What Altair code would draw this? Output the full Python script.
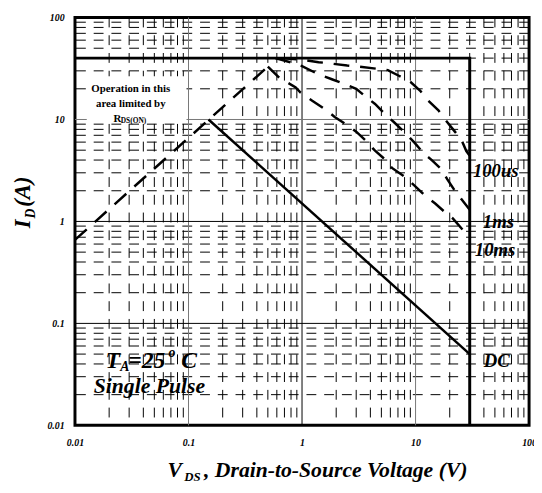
import altair as alt
import pandas as pd

SERIF = "Liberation Serif"

# ---------------- data ----------------
decades_x = [0.01, 0.1, 1, 10, 100]
decades_y = [0.01, 0.1, 1, 10, 100]
minor_mult = [2, 3, 4, 5, 6, 7, 8, 9]
minor_base = [0.01, 0.1, 1, 10]

dark_decades_x = [1]
gray_decades_x = [0.1, 10]
dark_decades_y = [1, 0.1]
gray_decades_y = [10]

# SOA boundary (I_D max 40 A, V_DS max 30 V)
bound_v = [0.01, 30, 30]
bound_i = [40, 40, 0.01]

# R_DS(on) limited line
rds_v = [0.01, 0.5]
rds_i = [0.66, 33]

us100_v = [0.65, 1.0, 1.4, 1.8, 2.5, 3.2, 4.5, 5.7, 7.2, 9.0, 11, 12.6, 15.9, 18.2, 22.2, 25.4, 28, 30]
us100_i = [40, 38.6, 36.5, 35.4, 33.8, 33, 31.5, 30.5, 26.7, 23.4, 19.1, 15.7, 12.3, 10, 7.6, 6.3, 4.9, 4.4]

ms1_v = [0.58, 0.82, 1.0, 1.4, 1.83, 2.38, 3.0, 3.7, 4.4, 5.5, 6.4, 7.9, 9.7, 11.9, 13.9, 16.9, 19.0, 22.2, 25.4, 30]
ms1_i = [40, 36, 33.4, 27.7, 24.8, 22.2, 20, 16.5, 14.2, 11, 9.5, 7.6, 6.0, 4.6, 4.0, 3.24, 2.6, 2.0, 1.65, 1.3]

ms10_v = [0.5, 0.63, 0.88, 0.97, 1.23, 1.6, 1.94, 2.5, 3.0, 3.7, 4.35, 5.6, 6.2, 8.2, 10, 12.2, 14.9, 18.2, 21.3, 26.2]
ms10_i = [33, 25.7, 20.6, 18.4, 15.3, 12.6, 10.6, 8.8, 7.6, 6.1, 5.0, 3.9, 3.35, 2.7, 2.2, 1.78, 1.5, 1.23, 1.07, 0.82]

dc_v = [0.15, 30]
dc_i = [10, 0.05]

# white box behind the "Operation in this area..." note
note_box_v = [0.0127, 0.096]
note_box_i = [9.6, 26.5]

# ---------------- tables ----------------
minor_vals = [m * b for b in minor_base for m in minor_mult]
minor_df = pd.DataFrame({"val": minor_vals})


def series_df(name, v, i):
    return pd.DataFrame({"series": name, "v": v, "i": i, "idx": list(range(len(v)))})


dashed_df = pd.concat([
    series_df("rds", rds_v, rds_i),
    series_df("100us", us100_v, us100_i),
    series_df("1ms", ms1_v, ms1_i),
    series_df("10ms", ms10_v, ms10_i),
])
bound_df = series_df("bound", bound_v, bound_i)
dc_df = series_df("dc", dc_v, dc_i)
box_df = pd.DataFrame({"v": [note_box_v[0]], "v2": [note_box_v[1]],
                       "i": [note_box_i[0]], "i2": [note_box_i[1]]})

xs = alt.Scale(type="log", domain=[0.01, 100], nice=False)
ys = alt.Scale(type="log", domain=[0.01, 100], nice=False)

axis_style = dict(
    labelFont=SERIF, labelFontStyle="italic", labelFontWeight="bold",
    labelFontSize=10, labelColor="black", ticks=False, domain=False,
    grid=False, title=None, labelFlush=False, format="~g",
)
XAX = alt.Axis(values=decades_x, labelPadding=12, **axis_style)
YAX = alt.Axis(values=decades_y, labelPadding=11, **axis_style)


def X(f):
    return alt.X(f, scale=xs, axis=XAX, title=None)


def Y(f):
    return alt.Y(f, scale=ys, axis=YAX, title=None)


# grid
vgrid = alt.Chart(minor_df).mark_rule(color="black", strokeWidth=1, strokeDash=[10, 8]).encode(x=X("val:Q"))
hgrid = alt.Chart(minor_df).mark_rule(color="black", strokeWidth=1, strokeDash=[10, 8]).encode(y=Y("val:Q"))
vdark = alt.Chart(pd.DataFrame({"val": dark_decades_x})).mark_rule(color="black", strokeWidth=1).encode(x=X("val:Q"))
vgray = alt.Chart(pd.DataFrame({"val": gray_decades_x})).mark_rule(color="#777777", strokeWidth=1).encode(x=X("val:Q"))
hdark = alt.Chart(pd.DataFrame({"val": dark_decades_y})).mark_rule(color="black", strokeWidth=1).encode(y=Y("val:Q"))
hgray = alt.Chart(pd.DataFrame({"val": gray_decades_y})).mark_rule(color="#777777", strokeWidth=1).encode(y=Y("val:Q"))

box = alt.Chart(box_df).mark_rect(color="white", opacity=1).encode(
    x=X("v:Q"), x2="v2:Q", y=Y("i:Q"), y2="i2:Q")


def line_enc(ch):
    return ch.encode(x=X("v:Q"), y=Y("i:Q"), detail="series:N", order="idx:Q")


dashed = line_enc(alt.Chart(dashed_df).mark_line(color="black", strokeWidth=2.5, strokeDash=[16, 11]))
bound = line_enc(alt.Chart(bound_df).mark_line(color="black", strokeWidth=3))
dc = line_enc(alt.Chart(dc_df).mark_line(color="black", strokeWidth=2.5))

one = pd.DataFrame({"k": [0]})


def dlabel(text, v, i, size, dx=0, dy=0, align="left", baseline="middle", italic=True):
    return alt.Chart(pd.DataFrame({"v": [v], "i": [i]})).mark_text(
        text=text, font=SERIF, fontSize=size, fontWeight="bold",
        fontStyle="italic" if italic else "normal", align=align, baseline=baseline,
        dx=dx, dy=dy, color="black",
    ).encode(x=X("v:Q"), y=Y("i:Q"))


def plabel(text, px, py, size, angle=0, align="left", baseline="alphabetic"):
    return alt.Chart(one).mark_text(
        text=text, font=SERIF, fontSize=size, fontWeight="bold", fontStyle="italic",
        align=align, baseline=baseline, angle=angle, color="black",
    ).encode(x=alt.value(px), y=alt.value(py))


labels = [
    dlabel("100us", 32.0, 3.11, 19),
    dlabel("1ms", 39.1, 0.978, 19),
    dlabel("10ms", 33.3, 0.525, 19),
    dlabel("DC", 39.9, 0.0425, 19),
    # T_A = 25 oC
    dlabel("T", 0.01858, 0.03634, 24, baseline="alphabetic"),
    dlabel("A", 0.01858, 0.03634, 14, dx=15, dy=3, baseline="alphabetic"),
    dlabel("=25", 0.01858, 0.03634, 24, dx=23, baseline="alphabetic"),
    dlabel("o", 0.01858, 0.03634, 14, dx=64, dy=-11, baseline="alphabetic"),
    dlabel("C", 0.01858, 0.03634, 24, dx=77, baseline="alphabetic"),
    dlabel("Single  Pulse", 0.01462, 0.02084, 22, baseline="alphabetic"),
    # Operation text
    dlabel("Operation in this", 0.031, 19.7, 11, align="center", italic=False),
    dlabel("area limited by", 0.031, 14.1, 11, align="center", italic=False),
    dlabel("R", 0.0218, 10.1, 11, italic=False),
    dlabel("DS(ON)", 0.0218, 10.1, 7.5, dx=7.5, dy=2.5, italic=False),
    # axis titles (pixel positions relative to plot area)
    plabel("V", 94, 466, 22),
    plabel("DS", 111, 470, 13),
    plabel(", Drain-to-Source Voltage (V)", 131, 466, 22),
    plabel("I", -46, 214, 23, angle=270),
    plabel("D", -41, 204, 14, angle=270),
    plabel("(A)", -46, 192, 23, angle=270),
]

chart = alt.layer(
    vgrid, hgrid, vgray, vdark, hgray, hdark, box, dashed, bound, dc, *labels
).properties(
    width=461, height=414,
    padding={"left": 68, "top": 6, "right": 5, "bottom": 65},
    autosize=alt.AutoSizeParams(type="none"),
    background="white",
).configure_view(stroke="black", strokeWidth=3)

chart.save("out.html", embed_options={"renderer": "svg", "actions": False})
